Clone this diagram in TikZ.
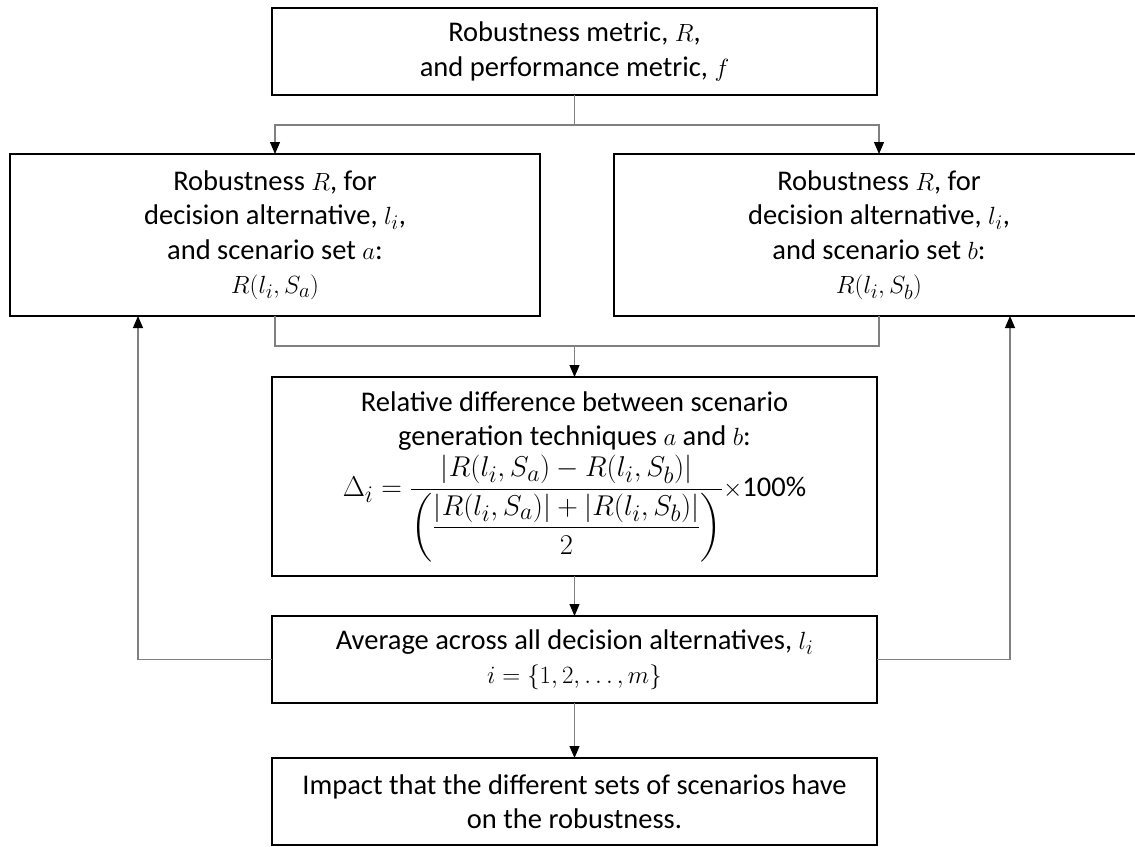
\documentclass[tikz,border=0pt]{standalone}
\usepackage{fontspec}
\usepackage{amsmath}
\usepackage{graphicx}
\setmainfont{Carlito}
\usetikzlibrary{arrows.meta}
\begin{document}
\begin{tikzpicture}[x=1pt,y=-1pt,
  box/.style={draw=black,line width=1.6pt,fill=white,align=center,inner sep=0pt,outer sep=0pt,
    font=\fontsize{28.5}{34.5}\selectfont},
  wide/.style={box,minimum width=605pt,minimum height=87pt},
  side/.style={box,minimum width=530pt,minimum height=162pt},
  conn/.style={draw=black!50,line width=1.1pt},
  arr/.style={conn,-{Triangle[width=10pt,length=12pt,color=black]}}
]
\useasboundingbox (0,0) rectangle (1135,846);
\node[wide] (top) at (574.5,51.5) {Robustness metric, $R$,\\ and performance metric, $f$};
\node[side] (left) at (275,235) {Robustness $R$, for\\ decision alternative, $l_i$,\\ and scenario set $a$:\\ $R(l_i,S_a)$};
\node[side] (right) at (879,235) {Robustness $R$, for\\ decision alternative, $l_i$,\\ and scenario set $b$:\\ $R(l_i,S_b)$};
\node[wide,minimum height=199pt] (mid) at (574.5,476.5) {Relative difference between scenario\\ generation techniques $a$ and $b$:\\[4pt]
 \scalebox{1.15}{$\displaystyle \Delta_i=\frac{|R(l_i,S_a)-R(l_i,S_b)|}{\left(\dfrac{|R(l_i,S_a)|+|R(l_i,S_b)|}{2}\right)}$}${\times}$100\%};
\node[wide] (avg) at (574.5,659.5) {Average across all decision alternatives, $l_i$\\ $i=\{1,2,\dots,m\}$};
\node[wide] (imp) at (574.5,801.5) {Impact that the different sets of scenarios have\\ on the robustness.};
% top to the two side boxes
\coordinate (j1) at ([yshift=-30pt]top.south);
\draw[conn] (top.south) -- (j1);
\draw[arr] (j1) -| (left.north);
\draw[arr] (j1) -| (right.north);
% side boxes to middle
\coordinate (j2) at ([yshift=-30pt]left.south);
\draw[conn] (left.south) -- (j2) -| (right.south);
\draw[arr] (mid.north |- j2) -- (mid.north);
\draw[arr] (mid.south) -- (avg.north);
\draw[arr] (avg.south) -- (imp.north);
% feedback loops
\coordinate (lb) at ([xshift=-137pt]left.south);
\coordinate (rb) at ([xshift=131pt]right.south);
\draw[arr] (avg.west) -| (lb);
\draw[arr] (avg.east) -| (rb);
\end{tikzpicture}
\end{document}
